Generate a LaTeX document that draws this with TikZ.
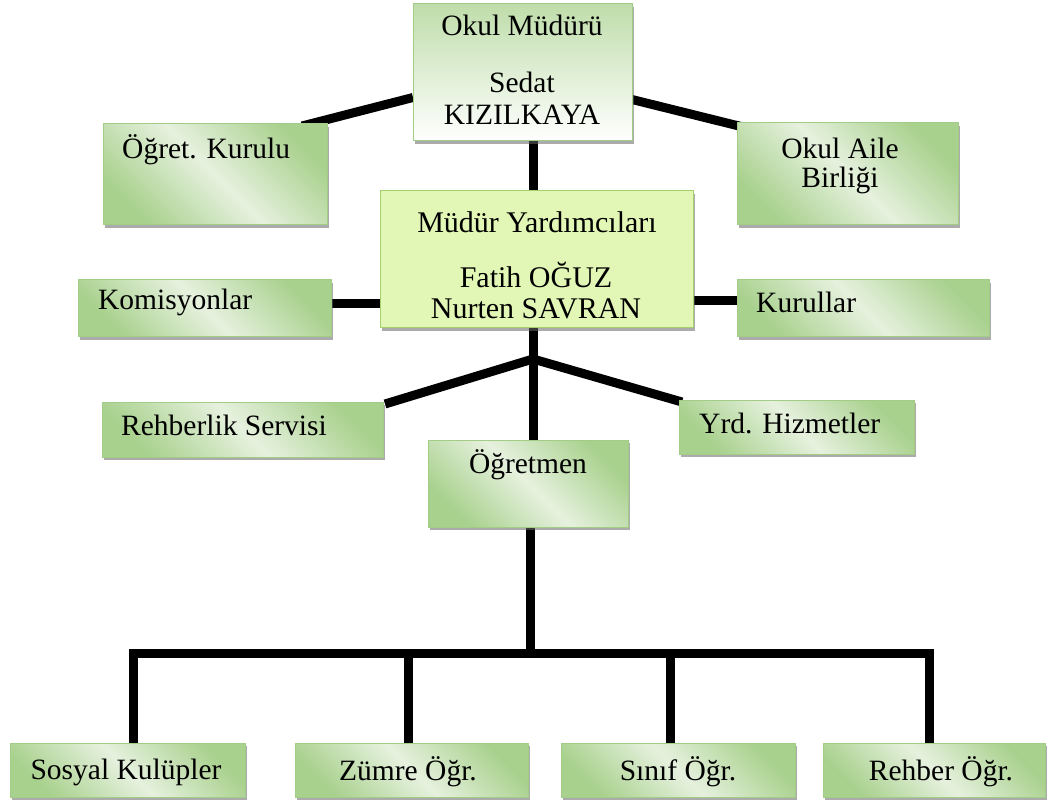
\documentclass[tikz,border=0pt]{standalone}
\usepackage{fontspec}
\setmainfont{Liberation Serif}
\usetikzlibrary{shadows,backgrounds,calc}
\definecolor{gdark}{HTML}{A9D18E}
\definecolor{glight}{HTML}{E6F1DE}
\definecolor{gedge}{HTML}{A3CC86}
\definecolor{yfill}{HTML}{E2F7B6}
\definecolor{yedge}{HTML}{A6CF6E}
\definecolor{gtop}{HTML}{BFDDAA}
\tikzset{
  shad/.style={drop shadow={shadow xshift=1.5pt, shadow yshift=-3pt, fill=black!60, opacity=0.55}},
  box/.style={draw=gedge, line width=1pt, inner sep=0pt, outer sep=0pt, anchor=north west,
    top color=gdark, bottom color=gdark, middle color=glight, shading angle=-45, shad},
  topbox/.style={draw=gedge, line width=1pt, inner sep=0pt, outer sep=0pt, anchor=north west,
    top color=gtop, bottom color=white, shad},
  ybox/.style={draw=yedge, line width=1pt, inner sep=0pt, outer sep=0pt, anchor=north west,
    fill=yfill, shad},
  txt/.style={inner sep=0pt, font=\fontsize{29.5}{32}\selectfont},
  bigtxt/.style={inner sep=0pt, font=\fontsize{30}{34}\selectfont},
  conn/.style={line width=9pt, black},
}
\begin{document}
\begin{tikzpicture}[x=1pt,y=-1pt]
\useasboundingbox (0,0) rectangle (1050,802);
% boxes
\node[topbox, minimum width=219pt, minimum height=137pt] (mud) at (413,4) {};
\node[box, minimum width=224pt, minimum height=101pt] (ogk) at (103,124) {};
\node[box, minimum width=221pt, minimum height=102pt] (oab) at (737,123) {};
\node[ybox, minimum width=313pt, minimum height=137pt] (myrd) at (380,191) {};
\node[box, minimum width=253pt, minimum height=57pt] (kom) at (78,280) {};
\node[box, minimum width=252pt, minimum height=57pt] (kur) at (737,280) {};
\node[box, minimum width=281pt, minimum height=55pt] (reh) at (102,402) {};
\node[box, minimum width=235pt, minimum height=54pt] (yrd) at (679,400) {};
\node[box, minimum width=200pt, minimum height=87pt] (ogr) at (428,440) {};
\node[box, minimum width=235pt, minimum height=54pt] (sos) at (10,743) {};
\node[box, minimum width=233pt, minimum height=54pt] (zum) at (295,743) {};
\node[box, minimum width=234pt, minimum height=54pt] (sin) at (561,743) {};
\node[box, minimum width=222pt, minimum height=54pt] (reb) at (823,743) {};
% texts
\node[txt] (t1) at (522,25) {Okul Müdürü};
\node[txt] (t2) at (522,82) {Sedat};
\node[txt] (t3) at (522,115) {KIZILKAYA};
\node[txt, anchor=west] (t4) at (122,150) {Öğret. Kurulu};
\node[txt] (t5) at (840,148) {Okul Aile};
\node[txt] (t6) at (840,180) {Birliği};
\node[bigtxt] (t7) at (537,222) {Müdür Yardımcıları};
\node[bigtxt] (t8) at (536,275) {Fatih OĞUZ};
\node[bigtxt] (t9) at (536,309) {Nurten SAVRAN};
\node[txt, anchor=west] (t10) at (98,302) {Komisyonlar};
\node[txt, anchor=west] (t11) at (756,302) {Kurullar};
\node[txt, anchor=west] (t12) at (121,425) {Rehberlik Servisi};
\node[txt, anchor=west] (t13) at (699,423) {Yrd. Hizmetler};
\node[txt] (t14) at (528,465) {Öğretmen};
\node[txt] (t15) at (126,772) {Sosyal Kulüpler};
\node[txt] (t16) at (408,772) {Zümre Öğr.};
\node[txt] (t17) at (678,772) {Sınıf Öğr.};
\node[txt] (t18) at (941,772) {Rehber Öğr.};
% junctions
\coordinate (j0) at (533,359);
\coordinate (j1) at (530,653);
\begin{pgfonlayer}{background}
\fill[white] (0,0) rectangle (1050,802);
\draw[conn] (j0 |- mud.south) -- (j0 |- myrd.north);
\draw[conn] ([yshift=-25pt]mud.west) -- ([xshift=-25pt,yshift=-2pt]ogk.north east);
\draw[conn] ([yshift=-27pt]mud.east) -- ([xshift=6pt,yshift=-4pt]oab.north west);
\draw[conn] ([yshift=5pt]kom.east) -- ([yshift=5pt]kom.east -| myrd.west);
\draw[conn] ([yshift=8pt]kur.west -| myrd.east) -- ([yshift=8pt]kur.west);
\draw[conn] (j0 |- myrd.south) -- (j0);
\draw[conn] (j0) -- ([xshift=2pt,yshift=-2pt]reh.north east);
\draw[conn] (j0) -- ([xshift=3pt,yshift=-2pt]yrd.north west);
\draw[conn] (j0) -- (j0 |- ogr.north);
\draw[conn] (j1 |- ogr.south) -- (j1);
\draw[conn, line join=miter] ([xshift=6pt]sos.north) |- ([xshift=-5pt]reb.north |- j1) -- ([xshift=-5pt]reb.north);
\draw[conn] ([xshift=-3pt]zum.north) -- ([xshift=-3pt]zum.north |- j1);
\draw[conn] ([xshift=-8pt]sin.north) -- ([xshift=-8pt]sin.north |- j1);
\end{pgfonlayer}
\end{tikzpicture}
\end{document}
